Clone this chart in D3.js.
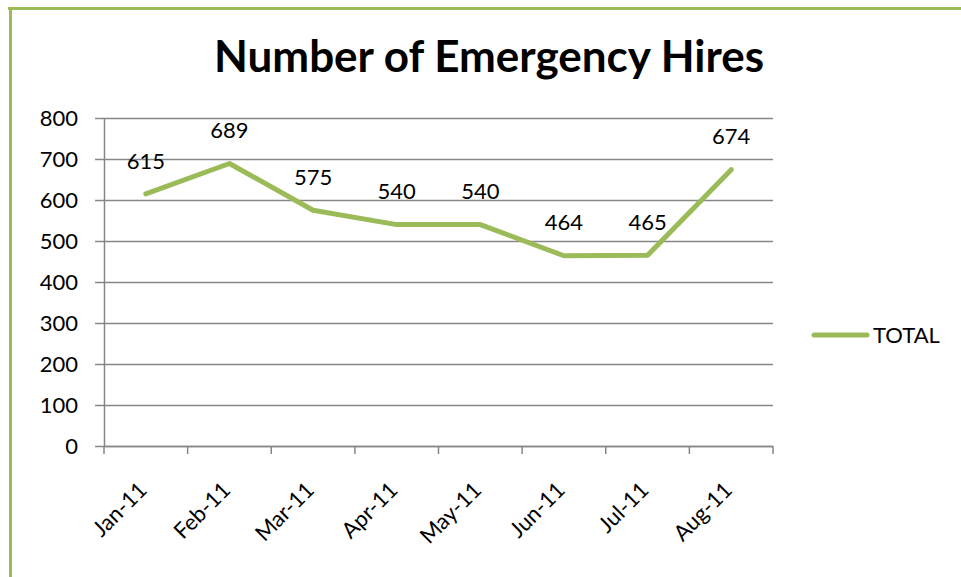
<!DOCTYPE html>
<html><head><meta charset="utf-8">
<script src="https://cdn.jsdelivr.net/npm/d3@7"></script>
<style>html,body{margin:0;padding:0;background:#fff;}svg{display:block;font-family:Lato,"Open Sans",sans-serif;}</style>
</head><body>
<script>
const categories = ["Jan-11","Feb-11","Mar-11","Apr-11","May-11","Jun-11","Jul-11","Aug-11"];
const totals = [615, 689, 575, 540, 540, 464, 465, 674];
const yTicks = [0,100,200,300,400,500,600,700,800];
const seriesName = "TOTAL";
const title = "Number of Emergency Hires";

const W = 961, H = 577;
const svg = d3.select("body").append("svg").attr("width", W).attr("height", H);

// outer border (cropped chart frame)
svg.append("line").attr("x1",8).attr("x2",W+5).attr("y1",8.5).attr("y2",8.5).attr("stroke","#9BBB59").attr("stroke-width",3);
svg.append("line").attr("x1",10.5).attr("x2",10.5).attr("y1",7).attr("y2",H+5).attr("stroke","#9BBB59").attr("stroke-width",3);

svg.append("text").attr("x",489).attr("y",72).attr("text-anchor","middle")
  .attr("font-weight","bold").attr("font-size",44).attr("fill","#000").text(title);

const x = d3.scaleBand().domain(categories).range([104,773]);
const y = d3.scaleLinear().domain([0,800]).range([446,118]);

// gridlines
svg.append("g").selectAll("line").data(yTicks).join("line")
  .attr("x1",95).attr("x2",773).attr("y1",d=>Math.round(y(d))+0.5).attr("y2",d=>Math.round(y(d))+0.5)
  .attr("stroke","#868686").attr("stroke-width",1.5);

// y axis
const yAxis = svg.append("g").attr("transform","translate(104,0)")
  .call(d3.axisLeft(y).tickValues(yTicks).tickSize(0).tickPadding(26));
yAxis.select(".domain").attr("stroke","#868686").attr("stroke-width",1.5);
yAxis.selectAll("text").attr("font-size",22).attr("fill","#000").attr("font-family","Lato");

// x axis
const bounds = categories.map(c=>x(c)).concat([x.range()[1]]);
svg.append("line").attr("x1",104).attr("x2",773).attr("y1",446.5).attr("y2",446.5).attr("stroke","#868686").attr("stroke-width",1.5);
svg.append("g").selectAll("line").data(bounds).join("line")
  .attr("x1",d=>d).attr("x2",d=>d).attr("y1",446).attr("y2",454)
  .attr("stroke","#868686").attr("stroke-width",1.5);
svg.append("g").selectAll("text").data(categories).join("text")
  .attr("transform",d=>`translate(${x(d)+x.bandwidth()/2-3},${486}) rotate(-45)`)
  .attr("text-anchor","end").attr("dy","0.35em").attr("font-size",22).attr("fill","#000").text(d=>d);

// line
const pts = categories.map((c,i)=>({c, v: totals[i]}));
svg.append("path").datum(pts)
  .attr("d", d3.line().x(d=>x(d.c)+x.bandwidth()/2).y(d=>y(d.v)))
  .attr("fill","none").attr("stroke","#9BBB59").attr("stroke-width",5).attr("stroke-linejoin","round").attr("stroke-linecap","round");

// data labels
svg.append("g").selectAll("text").data(pts).join("text")
  .attr("x",d=>x(d.c)+x.bandwidth()/2).attr("y",d=>y(d.v)-33).attr("dy","0.35em")
  .attr("text-anchor","middle").attr("font-size",22).attr("fill","#000").text(d=>d.v);

// legend
svg.append("line").attr("x1",814).attr("x2",867).attr("y1",335).attr("y2",335)
  .attr("stroke","#9BBB59").attr("stroke-width",5).attr("stroke-linecap","round");
svg.append("text").attr("x",873).attr("y",335).attr("dy","0.35em").attr("font-size",22).attr("fill","#000").text(seriesName);
</script>
</body></html>
